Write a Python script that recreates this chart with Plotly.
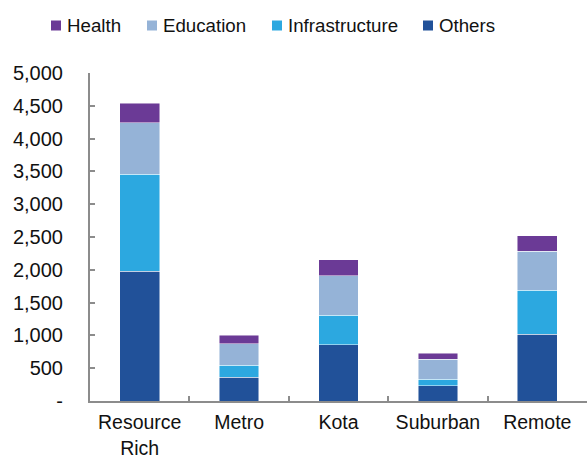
import plotly.graph_objects as go

# Spending by region type, stacked by category
regions = ["Resource<br>Rich", "Metro", "Kota", "Suburban", "Remote"]
others = [1980, 360, 860, 230, 1020]
infrastructure = [1480, 185, 450, 100, 670]
education = [780, 330, 600, 310, 590]
health = [300, 130, 240, 90, 240]

y_ticks = [0, 500, 1000, 1500, 2000, 2500, 3000, 3500, 4000, 4500, 5000]
y_tick_text = ["-", "500", "1,000", "1,500", "2,000", "2,500", "3,000",
               "3,500", "4,000", "4,500", "5,000"]

series = [
    ("Others", others, "#215199"),
    ("Infrastructure", infrastructure, "#2CA8E0"),
    ("Education", education, "#95B3D7"),
    ("Health", health, "#6B3A96"),
]

# Legend entries in display order, with their left edge in pixels
legend_order = ["Health", "Education", "Infrastructure", "Others"]
legend_left = [51, 147, 272, 423]

font_family = "Liberation Sans, Arial, sans-serif"
axis_color = "#8C8C8C"

W, H = 587, 458
M_L, M_R, M_T, M_B = 90, 0, 73, 57
plot_w = W - M_L - M_R
plot_h = H - M_T - M_B


def paper_x(px):
    return (px - M_L) / plot_w


def paper_y(py):
    return (H - M_B - py) / plot_h


fig = go.Figure()
for name, vals, color in series:
    fig.add_trace(go.Bar(
        x=regions, y=vals, name=name,
        marker=dict(color=color, line=dict(color="rgba(255,255,255,0.6)", width=0.8)),
        width=0.4, showlegend=False,
    ))

# Legend drawn as swatches and labels above the plot
colors = {name: color for name, _, color in series}
for name, left in zip(legend_order, legend_left):
    fig.add_shape(
        type="rect", xref="paper", yref="paper",
        x0=paper_x(left), x1=paper_x(left + 10),
        y0=paper_y(30.5), y1=paper_y(20.5),
        fillcolor=colors[name], line=dict(width=0),
    )
    fig.add_annotation(
        text=name, xref="paper", yref="paper",
        x=paper_x(left + 13.5), y=paper_y(25.5),
        xanchor="left", yanchor="middle", showarrow=False,
        font=dict(size=18.7, color="#111111", family=font_family),
    )

fig.update_layout(
    barmode="stack",
    width=W, height=H,
    margin=dict(l=M_L, r=M_R, t=M_T, b=M_B, autoexpand=False),
    paper_bgcolor="white", plot_bgcolor="white",
    font=dict(family=font_family, size=20, color="#111111"),
    showlegend=False,
    xaxis=dict(
        showline=True, linecolor=axis_color, linewidth=2,
        ticks="inside", tickson="boundaries", ticklen=5,
        tickcolor=axis_color, tickwidth=1.5,
        showgrid=False, zeroline=False, ticklabelstandoff=3,
        tickfont=dict(size=19.5),
    ),
    yaxis=dict(
        range=[0, 5000], tickvals=y_ticks, ticktext=y_tick_text,
        showline=True, linecolor=axis_color, linewidth=2,
        ticks="inside", ticklen=5, tickcolor=axis_color, tickwidth=1.5,
        showgrid=False, zeroline=False, ticklabelstandoff=21,
    ),
)

fig.write_html("out.html")
